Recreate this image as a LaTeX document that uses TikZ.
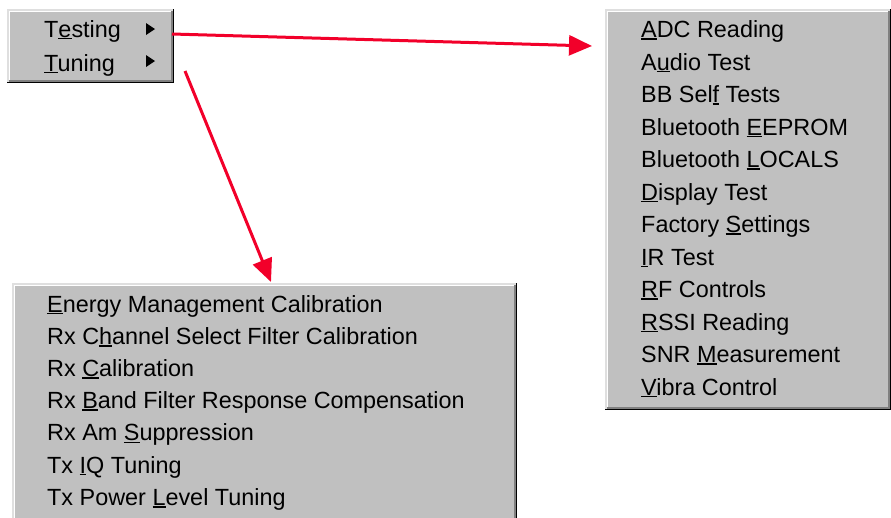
\documentclass[tikz,border=0pt]{standalone}
\usepackage{fontspec}
\setmainfont{Liberation Sans}
\usepackage{xcolor}
\usepackage{tikz}
\usetikzlibrary{arrows.meta}

\definecolor{menugray}{RGB}{192,192,192}
\definecolor{lightedge}{RGB}{223,223,223}
\definecolor{darkedge}{RGB}{128,128,128}
\definecolor{arrowred}{RGB}{242,0,42}

\newcommand\hotkey[1]{\setbox0\hbox{#1}\rlap{\rule[-2.3pt]{\wd0}{1.6pt}}#1}

\begin{document}
\begin{tikzpicture}[x=1pt,y=-1pt,
		item/.style={anchor=base west,inner sep=0pt,font=\fontsize{23.4}{23.4}\selectfont},
		redarrow/.style={arrowred,line width=3pt,-{Triangle[length=23pt,width=20pt]}}]
		\def\menubox#1#2#3#4{%
			\fill [menugray] (#1,#2) rectangle (#3,#4);
			\draw [lightedge,line width=1.5pt] (#1+.75,#4) -- (#1+.75,#2+.75) -- (#3,#2+.75);
			\draw [white,line width=1.5pt] (#1+2.25,#4-1.5) -- (#1+2.25,#2+2.25) -- (#3-1.5,#2+2.25);
			\draw [black,line width=1.5pt] (#1,#4-.75) -- (#3-.75,#4-.75) -- (#3-.75,#2);
			\draw [darkedge,line width=1.5pt] (#1+1.5,#4-2.25) -- (#3-2.25,#4-2.25) -- (#3-2.25,#2+1.5);}
		\useasboundingbox (0,0) rectangle (891,517);
		\clip (0,0) rectangle (891,517);
		% main menu
		\menubox{7}{9}{174}{83}
		\node [item] (testing) at (44,37) {T\hotkey{e}sting};
		\node [item] (tuning) at (44,71) {\hotkey{T}uning};
		\fill (146,23) -- (155,29) -- (146,35) -- cycle
			  (146,55) -- (155,61) -- (146,67) -- cycle;
		% testing submenu
		\menubox{605}{9}{891}{410}
		\foreach \txt [count=\i from 0] in {{\hotkey{A}DC Reading},{A\hotkey{u}dio Test},
				{BB Sel\hotkey{f} Tests},{Bluetooth \hotkey{E}EPROM},{Bluetooth \hotkey{L}OCALS},
				{\hotkey{D}isplay Test},{Factory \hotkey{S}ettings},{\hotkey{I}R Test},
				{\hotkey{R}F Controls},{\hotkey{R}SSI Reading},{SNR \hotkey{M}easurement},
				{\hotkey{V}ibra Control}}
			\node [item] (test\i) at (641,{37.5+32.5*\i}) {\txt};
		% tuning submenu
		\menubox{12}{283}{517}{540}
		\foreach \txt [count=\i from 0] in {{\hotkey{E}nergy Management Calibration},
				{Rx C\hotkey{h}annel Select Filter Calibration},{Rx \hotkey{C}alibration},
				{Rx \hotkey{B}and Filter Response Compensation},{Rx Am \hotkey{S}uppression},
				{Tx \hotkey{I}Q Tuning},{Tx Power \hotkey{L}evel Tuning}}
			\node [item] (tune\i) at (47,{312+32.2*\i}) {\txt};
		% arrows
		\coordinate (testout) at (172,34);
		\coordinate (testin) at (592,46);
		\coordinate (tuneout) at (185,71);
		\coordinate (tunein) at (271,282);
		\draw [redarrow] (testout) -- (testin);
		\draw [redarrow] (tuneout) -- (tunein);
	\end{tikzpicture}
\end{document}
